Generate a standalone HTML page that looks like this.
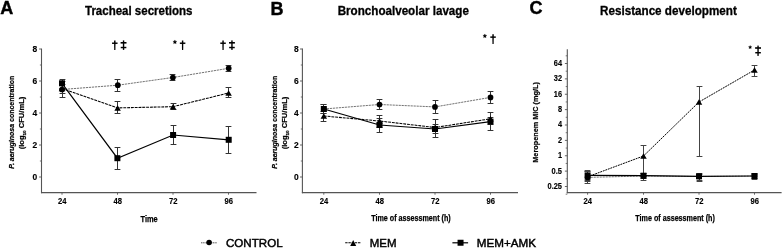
<!DOCTYPE html>
<html><head><meta charset="utf-8"><style>
html,body{margin:0;padding:0;background:#fff;width:783px;height:248px;overflow:hidden;font-family:"Liberation Sans", sans-serif;}
text{font-family:"Liberation Sans", sans-serif;}
svg{will-change:transform;}
</style></head><body>
<svg width="783" height="248" viewBox="0 0 783 248" style="display:block;font-family:'Liberation Sans', sans-serif">
<rect width="783" height="248" fill="#fff"/>
<text x="0.30" y="13.80" font-size="18" font-weight="bold" text-anchor="start" fill="#000" stroke="#000" stroke-width="0.4"  style="">A</text>
<text x="270.60" y="14.90" font-size="18" font-weight="bold" text-anchor="start" fill="#000" stroke="#000" stroke-width="0.4"  style="">B</text>
<text x="529.60" y="13.60" font-size="18" font-weight="bold" text-anchor="start" fill="#000" stroke="#000" stroke-width="0.4"  style="">C</text>
<text x="85.00" y="14.80" font-size="12" font-weight="bold" text-anchor="start" textLength="107.40" lengthAdjust="spacingAndGlyphs" fill="#000" stroke="#000" stroke-width="0.3"  style="">Tracheal secretions</text>
<text x="337.70" y="14.80" font-size="12" font-weight="bold" text-anchor="start" textLength="131.20" lengthAdjust="spacingAndGlyphs" fill="#000" stroke="#000" stroke-width="0.3"  style="">Bronchoalveolar lavage</text>
<text x="600.00" y="14.80" font-size="12" font-weight="bold" text-anchor="start" textLength="136.80" lengthAdjust="spacingAndGlyphs" fill="#000" stroke="#000" stroke-width="0.3"  style="">Resistance development</text>
<line x1="41.50" y1="48.60" x2="41.50" y2="193.20" stroke="#555" stroke-width="1.1" />
<line x1="41.00" y1="192.70" x2="256.50" y2="192.70" stroke="#555" stroke-width="1.2" />
<line x1="39.10" y1="49.00" x2="41.50" y2="49.00" stroke="#555" stroke-width="0.9" />
<line x1="39.10" y1="81.00" x2="41.50" y2="81.00" stroke="#555" stroke-width="0.9" />
<line x1="39.10" y1="113.00" x2="41.50" y2="113.00" stroke="#555" stroke-width="0.9" />
<line x1="39.10" y1="145.00" x2="41.50" y2="145.00" stroke="#555" stroke-width="0.9" />
<line x1="39.10" y1="177.00" x2="41.50" y2="177.00" stroke="#555" stroke-width="0.9" />
<line x1="39.90" y1="65.00" x2="41.50" y2="65.00" stroke="#555" stroke-width="0.8" />
<line x1="39.90" y1="97.00" x2="41.50" y2="97.00" stroke="#555" stroke-width="0.8" />
<line x1="39.90" y1="129.00" x2="41.50" y2="129.00" stroke="#555" stroke-width="0.8" />
<line x1="39.90" y1="161.00" x2="41.50" y2="161.00" stroke="#555" stroke-width="0.8" />
<line x1="62.00" y1="192.70" x2="62.00" y2="194.70" stroke="#555" stroke-width="0.9" />
<line x1="117.50" y1="192.70" x2="117.50" y2="194.70" stroke="#555" stroke-width="0.9" />
<line x1="173.00" y1="192.70" x2="173.00" y2="194.70" stroke="#555" stroke-width="0.9" />
<line x1="228.50" y1="192.70" x2="228.50" y2="194.70" stroke="#555" stroke-width="0.9" />
<text x="37.30" y="51.80" font-size="9" font-weight="bold" text-anchor="end" textLength="4.70" lengthAdjust="spacingAndGlyphs" fill="#000" stroke="#000" stroke-width="0.15"  style="">8</text>
<text x="37.30" y="83.80" font-size="9" font-weight="bold" text-anchor="end" textLength="4.70" lengthAdjust="spacingAndGlyphs" fill="#000" stroke="#000" stroke-width="0.15"  style="">6</text>
<text x="37.30" y="115.80" font-size="9" font-weight="bold" text-anchor="end" textLength="4.70" lengthAdjust="spacingAndGlyphs" fill="#000" stroke="#000" stroke-width="0.15"  style="">4</text>
<text x="37.30" y="147.80" font-size="9" font-weight="bold" text-anchor="end" textLength="4.70" lengthAdjust="spacingAndGlyphs" fill="#000" stroke="#000" stroke-width="0.15"  style="">2</text>
<text x="37.30" y="179.80" font-size="9" font-weight="bold" text-anchor="end" textLength="4.70" lengthAdjust="spacingAndGlyphs" fill="#000" stroke="#000" stroke-width="0.15"  style="">0</text>
<text x="62.20" y="203.80" font-size="8.8" font-weight="bold" text-anchor="middle" textLength="8.50" lengthAdjust="spacingAndGlyphs" fill="#000" stroke="#000" stroke-width="0.15"  style="">24</text>
<text x="117.70" y="203.80" font-size="8.8" font-weight="bold" text-anchor="middle" textLength="8.50" lengthAdjust="spacingAndGlyphs" fill="#000" stroke="#000" stroke-width="0.15"  style="">48</text>
<text x="173.20" y="203.80" font-size="8.8" font-weight="bold" text-anchor="middle" textLength="8.50" lengthAdjust="spacingAndGlyphs" fill="#000" stroke="#000" stroke-width="0.15"  style="">72</text>
<text x="228.70" y="203.80" font-size="8.8" font-weight="bold" text-anchor="middle" textLength="8.50" lengthAdjust="spacingAndGlyphs" fill="#000" stroke="#000" stroke-width="0.15"  style="">96</text>
<text x="149.10" y="221.90" font-size="9.6" font-weight="bold" text-anchor="middle" textLength="17.20" lengthAdjust="spacingAndGlyphs" fill="#000" stroke="#000" stroke-width="0.25"  style="">Time</text>
<line x1="302.40" y1="48.60" x2="302.40" y2="193.20" stroke="#555" stroke-width="1.1" />
<line x1="301.90" y1="192.70" x2="518.00" y2="192.70" stroke="#555" stroke-width="1.2" />
<line x1="300.00" y1="49.00" x2="302.40" y2="49.00" stroke="#555" stroke-width="0.9" />
<line x1="300.00" y1="81.00" x2="302.40" y2="81.00" stroke="#555" stroke-width="0.9" />
<line x1="300.00" y1="113.00" x2="302.40" y2="113.00" stroke="#555" stroke-width="0.9" />
<line x1="300.00" y1="145.00" x2="302.40" y2="145.00" stroke="#555" stroke-width="0.9" />
<line x1="300.00" y1="177.00" x2="302.40" y2="177.00" stroke="#555" stroke-width="0.9" />
<line x1="300.80" y1="65.00" x2="302.40" y2="65.00" stroke="#555" stroke-width="0.8" />
<line x1="300.80" y1="97.00" x2="302.40" y2="97.00" stroke="#555" stroke-width="0.8" />
<line x1="300.80" y1="129.00" x2="302.40" y2="129.00" stroke="#555" stroke-width="0.8" />
<line x1="300.80" y1="161.00" x2="302.40" y2="161.00" stroke="#555" stroke-width="0.8" />
<line x1="323.80" y1="192.70" x2="323.80" y2="194.70" stroke="#555" stroke-width="0.9" />
<line x1="379.50" y1="192.70" x2="379.50" y2="194.70" stroke="#555" stroke-width="0.9" />
<line x1="435.00" y1="192.70" x2="435.00" y2="194.70" stroke="#555" stroke-width="0.9" />
<line x1="490.50" y1="192.70" x2="490.50" y2="194.70" stroke="#555" stroke-width="0.9" />
<text x="298.80" y="51.80" font-size="9" font-weight="bold" text-anchor="end" textLength="4.70" lengthAdjust="spacingAndGlyphs" fill="#000" stroke="#000" stroke-width="0.15"  style="">8</text>
<text x="298.80" y="83.80" font-size="9" font-weight="bold" text-anchor="end" textLength="4.70" lengthAdjust="spacingAndGlyphs" fill="#000" stroke="#000" stroke-width="0.15"  style="">6</text>
<text x="298.80" y="115.80" font-size="9" font-weight="bold" text-anchor="end" textLength="4.70" lengthAdjust="spacingAndGlyphs" fill="#000" stroke="#000" stroke-width="0.15"  style="">4</text>
<text x="298.80" y="147.80" font-size="9" font-weight="bold" text-anchor="end" textLength="4.70" lengthAdjust="spacingAndGlyphs" fill="#000" stroke="#000" stroke-width="0.15"  style="">2</text>
<text x="298.80" y="179.80" font-size="9" font-weight="bold" text-anchor="end" textLength="4.70" lengthAdjust="spacingAndGlyphs" fill="#000" stroke="#000" stroke-width="0.15"  style="">0</text>
<text x="324.00" y="203.80" font-size="8.8" font-weight="bold" text-anchor="middle" textLength="8.50" lengthAdjust="spacingAndGlyphs" fill="#000" stroke="#000" stroke-width="0.15"  style="">24</text>
<text x="379.70" y="203.80" font-size="8.8" font-weight="bold" text-anchor="middle" textLength="8.50" lengthAdjust="spacingAndGlyphs" fill="#000" stroke="#000" stroke-width="0.15"  style="">48</text>
<text x="435.20" y="203.80" font-size="8.8" font-weight="bold" text-anchor="middle" textLength="8.50" lengthAdjust="spacingAndGlyphs" fill="#000" stroke="#000" stroke-width="0.15"  style="">72</text>
<text x="490.70" y="203.80" font-size="8.8" font-weight="bold" text-anchor="middle" textLength="8.50" lengthAdjust="spacingAndGlyphs" fill="#000" stroke="#000" stroke-width="0.15"  style="">96</text>
<text x="411.00" y="220.90" font-size="8.9" font-weight="bold" text-anchor="middle" textLength="79.50" lengthAdjust="spacingAndGlyphs" fill="#000" stroke="#000" stroke-width="0.25"  style="">Time of assessment (h)</text>
<line x1="567.30" y1="49.20" x2="567.30" y2="193.20" stroke="#555" stroke-width="1.1" />
<line x1="566.80" y1="192.70" x2="781.60" y2="192.70" stroke="#555" stroke-width="1.2" />
<line x1="564.90" y1="63.50" x2="567.30" y2="63.50" stroke="#555" stroke-width="0.9" />
<line x1="564.90" y1="78.88" x2="567.30" y2="78.88" stroke="#555" stroke-width="0.9" />
<line x1="564.90" y1="94.25" x2="567.30" y2="94.25" stroke="#555" stroke-width="0.9" />
<line x1="564.90" y1="109.62" x2="567.30" y2="109.62" stroke="#555" stroke-width="0.9" />
<line x1="564.90" y1="125.00" x2="567.30" y2="125.00" stroke="#555" stroke-width="0.9" />
<line x1="564.90" y1="140.38" x2="567.30" y2="140.38" stroke="#555" stroke-width="0.9" />
<line x1="564.90" y1="155.75" x2="567.30" y2="155.75" stroke="#555" stroke-width="0.9" />
<line x1="564.90" y1="171.12" x2="567.30" y2="171.12" stroke="#555" stroke-width="0.9" />
<line x1="564.90" y1="186.50" x2="567.30" y2="186.50" stroke="#555" stroke-width="0.9" />
<line x1="565.70" y1="55.81" x2="567.30" y2="55.81" stroke="#555" stroke-width="0.8" />
<line x1="565.70" y1="71.19" x2="567.30" y2="71.19" stroke="#555" stroke-width="0.8" />
<line x1="565.70" y1="86.56" x2="567.30" y2="86.56" stroke="#555" stroke-width="0.8" />
<line x1="565.70" y1="101.94" x2="567.30" y2="101.94" stroke="#555" stroke-width="0.8" />
<line x1="565.70" y1="117.31" x2="567.30" y2="117.31" stroke="#555" stroke-width="0.8" />
<line x1="565.70" y1="132.69" x2="567.30" y2="132.69" stroke="#555" stroke-width="0.8" />
<line x1="565.70" y1="148.06" x2="567.30" y2="148.06" stroke="#555" stroke-width="0.8" />
<line x1="565.70" y1="163.44" x2="567.30" y2="163.44" stroke="#555" stroke-width="0.8" />
<line x1="565.70" y1="178.81" x2="567.30" y2="178.81" stroke="#555" stroke-width="0.8" />
<line x1="565.70" y1="194.19" x2="567.30" y2="194.19" stroke="#555" stroke-width="0.8" />
<line x1="587.60" y1="192.70" x2="587.60" y2="194.70" stroke="#555" stroke-width="0.9" />
<line x1="643.50" y1="192.70" x2="643.50" y2="194.70" stroke="#555" stroke-width="0.9" />
<line x1="699.00" y1="192.70" x2="699.00" y2="194.70" stroke="#555" stroke-width="0.9" />
<line x1="754.50" y1="192.70" x2="754.50" y2="194.70" stroke="#555" stroke-width="0.9" />
<text x="562.00" y="65.90" font-size="8.3" font-weight="bold" text-anchor="end" textLength="8.20" lengthAdjust="spacingAndGlyphs" fill="#000" stroke="#000" stroke-width="0.15"  style="">64</text>
<text x="562.00" y="81.28" font-size="8.3" font-weight="bold" text-anchor="end" textLength="8.20" lengthAdjust="spacingAndGlyphs" fill="#000" stroke="#000" stroke-width="0.15"  style="">32</text>
<text x="562.00" y="96.65" font-size="8.3" font-weight="bold" text-anchor="end" textLength="8.20" lengthAdjust="spacingAndGlyphs" fill="#000" stroke="#000" stroke-width="0.15"  style="">16</text>
<text x="562.00" y="112.03" font-size="8.3" font-weight="bold" text-anchor="end" textLength="4.10" lengthAdjust="spacingAndGlyphs" fill="#000" stroke="#000" stroke-width="0.15"  style="">8</text>
<text x="562.00" y="127.40" font-size="8.3" font-weight="bold" text-anchor="end" textLength="4.10" lengthAdjust="spacingAndGlyphs" fill="#000" stroke="#000" stroke-width="0.15"  style="">4</text>
<text x="562.00" y="142.78" font-size="8.3" font-weight="bold" text-anchor="end" textLength="4.10" lengthAdjust="spacingAndGlyphs" fill="#000" stroke="#000" stroke-width="0.15"  style="">2</text>
<text x="562.00" y="158.15" font-size="8.3" font-weight="bold" text-anchor="end" textLength="4.10" lengthAdjust="spacingAndGlyphs" fill="#000" stroke="#000" stroke-width="0.15"  style="">1</text>
<text x="562.00" y="173.53" font-size="8.3" font-weight="bold" text-anchor="end" textLength="10.40" lengthAdjust="spacingAndGlyphs" fill="#000" stroke="#000" stroke-width="0.15"  style="">0.5</text>
<text x="562.00" y="188.90" font-size="8.3" font-weight="bold" text-anchor="end" textLength="14.50" lengthAdjust="spacingAndGlyphs" fill="#000" stroke="#000" stroke-width="0.15"  style="">0.25</text>
<text x="587.80" y="203.80" font-size="8.8" font-weight="bold" text-anchor="middle" textLength="8.50" lengthAdjust="spacingAndGlyphs" fill="#000" stroke="#000" stroke-width="0.15"  style="">24</text>
<text x="643.70" y="203.80" font-size="8.8" font-weight="bold" text-anchor="middle" textLength="8.50" lengthAdjust="spacingAndGlyphs" fill="#000" stroke="#000" stroke-width="0.15"  style="">48</text>
<text x="699.20" y="203.80" font-size="8.8" font-weight="bold" text-anchor="middle" textLength="8.50" lengthAdjust="spacingAndGlyphs" fill="#000" stroke="#000" stroke-width="0.15"  style="">72</text>
<text x="754.70" y="203.80" font-size="8.8" font-weight="bold" text-anchor="middle" textLength="8.50" lengthAdjust="spacingAndGlyphs" fill="#000" stroke="#000" stroke-width="0.15"  style="">96</text>
<text x="675.10" y="220.90" font-size="8.9" font-weight="bold" text-anchor="middle" textLength="79.50" lengthAdjust="spacingAndGlyphs" fill="#000" stroke="#000" stroke-width="0.25"  style="">Time of assessment (h)</text>
<text transform="translate(13.60,122.30) rotate(-90)" x="0" y="0" font-size="7.2" font-weight="bold" stroke="#000" stroke-width="0.22" text-anchor="middle" textLength="93" lengthAdjust="spacingAndGlyphs"><tspan font-style="italic">P. aeruginosa</tspan> concentration</text>
<text transform="translate(24.40,123.00) rotate(-90)" x="0" y="0" font-size="7.2" font-weight="bold" stroke="#000" stroke-width="0.22" text-anchor="middle" textLength="52.6" lengthAdjust="spacingAndGlyphs">(log<tspan font-size="4.3" dy="1.3">10</tspan><tspan dy="-1.3"> CFU/mL)</tspan></text>
<text transform="translate(276.80,122.30) rotate(-90)" x="0" y="0" font-size="7.2" font-weight="bold" stroke="#000" stroke-width="0.22" text-anchor="middle" textLength="93" lengthAdjust="spacingAndGlyphs"><tspan font-style="italic">P. aeruginosa</tspan> concentration</text>
<text transform="translate(287.20,123.00) rotate(-90)" x="0" y="0" font-size="7.2" font-weight="bold" stroke="#000" stroke-width="0.22" text-anchor="middle" textLength="52.6" lengthAdjust="spacingAndGlyphs">(log<tspan font-size="4.3" dy="1.3">10</tspan><tspan dy="-1.3"> CFU/mL)</tspan></text>
<text transform="translate(538.2,122.4) rotate(-90)" x="0" y="0" font-size="7.6" font-weight="bold" stroke="#000" stroke-width="0.22" text-anchor="middle" textLength="80.6" lengthAdjust="spacingAndGlyphs">Meropenem MIC (mg/L)</text>
<polyline points="62.00,89.50 117.80,85.20 172.90,77.50 228.70,68.30" fill="none" stroke="#444" stroke-width="0.75" stroke-dasharray="2.2,0.8"/>
<polyline points="62.00,88.50 117.60,107.90 173.00,106.70 228.60,93.00" fill="none" stroke="#000" stroke-width="1.05" stroke-dasharray="2.9,0.9"/>
<polyline points="62.00,83.30 117.40,158.20 173.10,135.00 228.70,139.80" fill="none" stroke="#000" stroke-width="1.2"/>
<line x1="62.50" y1="81.50" x2="62.50" y2="97.50" stroke="#333" stroke-width="1" />
<line x1="59.60" y1="81.50" x2="65.40" y2="81.50" stroke="#333" stroke-width="1" />
<line x1="59.60" y1="97.50" x2="65.40" y2="97.50" stroke="#333" stroke-width="1" />
<line x1="117.50" y1="79.50" x2="117.50" y2="91.50" stroke="#333" stroke-width="1" />
<line x1="114.60" y1="79.50" x2="120.40" y2="79.50" stroke="#333" stroke-width="1" />
<line x1="114.60" y1="91.50" x2="120.40" y2="91.50" stroke="#333" stroke-width="1" />
<line x1="172.50" y1="74.50" x2="172.50" y2="80.50" stroke="#333" stroke-width="1" />
<line x1="169.60" y1="74.50" x2="175.40" y2="74.50" stroke="#333" stroke-width="1" />
<line x1="169.60" y1="80.50" x2="175.40" y2="80.50" stroke="#333" stroke-width="1" />
<line x1="228.50" y1="65.50" x2="228.50" y2="71.50" stroke="#333" stroke-width="1" />
<line x1="225.60" y1="65.50" x2="231.40" y2="65.50" stroke="#333" stroke-width="1" />
<line x1="225.60" y1="71.50" x2="231.40" y2="71.50" stroke="#333" stroke-width="1" />
<line x1="62.50" y1="84.50" x2="62.50" y2="93.50" stroke="#333" stroke-width="1" />
<line x1="59.60" y1="84.50" x2="65.40" y2="84.50" stroke="#333" stroke-width="1" />
<line x1="59.60" y1="93.50" x2="65.40" y2="93.50" stroke="#333" stroke-width="1" />
<line x1="117.50" y1="101.50" x2="117.50" y2="113.50" stroke="#333" stroke-width="1" />
<line x1="114.60" y1="101.50" x2="120.40" y2="101.50" stroke="#333" stroke-width="1" />
<line x1="114.60" y1="113.50" x2="120.40" y2="113.50" stroke="#333" stroke-width="1" />
<line x1="173.50" y1="103.50" x2="173.50" y2="109.50" stroke="#333" stroke-width="1" />
<line x1="170.60" y1="103.50" x2="176.40" y2="103.50" stroke="#333" stroke-width="1" />
<line x1="170.60" y1="109.50" x2="176.40" y2="109.50" stroke="#333" stroke-width="1" />
<line x1="228.50" y1="87.50" x2="228.50" y2="97.50" stroke="#333" stroke-width="1" />
<line x1="225.60" y1="87.50" x2="231.40" y2="87.50" stroke="#333" stroke-width="1" />
<line x1="225.60" y1="97.50" x2="231.40" y2="97.50" stroke="#333" stroke-width="1" />
<line x1="62.50" y1="79.50" x2="62.50" y2="88.50" stroke="#333" stroke-width="1" />
<line x1="59.60" y1="79.50" x2="65.40" y2="79.50" stroke="#333" stroke-width="1" />
<line x1="59.60" y1="88.50" x2="65.40" y2="88.50" stroke="#333" stroke-width="1" />
<line x1="117.50" y1="147.50" x2="117.50" y2="169.50" stroke="#333" stroke-width="1" />
<line x1="114.60" y1="147.50" x2="120.40" y2="147.50" stroke="#333" stroke-width="1" />
<line x1="114.60" y1="169.50" x2="120.40" y2="169.50" stroke="#333" stroke-width="1" />
<line x1="173.50" y1="125.50" x2="173.50" y2="144.50" stroke="#333" stroke-width="1" />
<line x1="170.60" y1="125.50" x2="176.40" y2="125.50" stroke="#333" stroke-width="1" />
<line x1="170.60" y1="144.50" x2="176.40" y2="144.50" stroke="#333" stroke-width="1" />
<line x1="228.50" y1="126.50" x2="228.50" y2="153.50" stroke="#333" stroke-width="1" />
<line x1="225.60" y1="126.50" x2="231.40" y2="126.50" stroke="#333" stroke-width="1" />
<line x1="225.60" y1="153.50" x2="231.40" y2="153.50" stroke="#333" stroke-width="1" />
<circle cx="62.00" cy="89.50" r="2.85" fill="#000"/>
<circle cx="117.80" cy="85.20" r="2.85" fill="#000"/>
<circle cx="172.90" cy="77.50" r="2.85" fill="#000"/>
<circle cx="228.70" cy="68.30" r="2.85" fill="#000"/>
<polygon points="62.00,85.74 65.25,91.26 58.75,91.26" fill="#000"/>
<polygon points="117.60,105.14 120.85,110.66 114.35,110.66" fill="#000"/>
<polygon points="173.00,103.94 176.25,109.46 169.75,109.46" fill="#000"/>
<polygon points="228.60,90.24 231.85,95.76 225.35,95.76" fill="#000"/>
<rect x="59.00" y="80.30" width="6" height="6" fill="#000"/>
<rect x="114.40" y="155.20" width="6" height="6" fill="#000"/>
<rect x="170.10" y="132.00" width="6" height="6" fill="#000"/>
<rect x="225.70" y="136.80" width="6" height="6" fill="#000"/>
<polyline points="323.80,109.00 379.50,104.50 435.00,106.90 490.50,97.40" fill="none" stroke="#444" stroke-width="0.75" stroke-dasharray="2.2,0.8"/>
<polyline points="323.80,116.00 379.50,121.00 435.00,127.50 490.50,118.80" fill="none" stroke="#000" stroke-width="1.05" stroke-dasharray="2.9,0.9"/>
<polyline points="323.80,109.00 379.50,125.00 435.00,129.00 490.50,121.60" fill="none" stroke="#000" stroke-width="1.2"/>
<line x1="323.50" y1="104.50" x2="323.50" y2="113.50" stroke="#333" stroke-width="1" />
<line x1="320.60" y1="104.50" x2="326.40" y2="104.50" stroke="#333" stroke-width="1" />
<line x1="320.60" y1="113.50" x2="326.40" y2="113.50" stroke="#333" stroke-width="1" />
<line x1="379.50" y1="99.50" x2="379.50" y2="109.50" stroke="#333" stroke-width="1" />
<line x1="376.60" y1="99.50" x2="382.40" y2="99.50" stroke="#333" stroke-width="1" />
<line x1="376.60" y1="109.50" x2="382.40" y2="109.50" stroke="#333" stroke-width="1" />
<line x1="435.50" y1="100.50" x2="435.50" y2="113.50" stroke="#333" stroke-width="1" />
<line x1="432.60" y1="100.50" x2="438.40" y2="100.50" stroke="#333" stroke-width="1" />
<line x1="432.60" y1="113.50" x2="438.40" y2="113.50" stroke="#333" stroke-width="1" />
<line x1="490.50" y1="91.50" x2="490.50" y2="103.50" stroke="#333" stroke-width="1" />
<line x1="487.60" y1="91.50" x2="493.40" y2="91.50" stroke="#333" stroke-width="1" />
<line x1="487.60" y1="103.50" x2="493.40" y2="103.50" stroke="#333" stroke-width="1" />
<line x1="323.50" y1="111.50" x2="323.50" y2="121.50" stroke="#333" stroke-width="1" />
<line x1="320.60" y1="111.50" x2="326.40" y2="111.50" stroke="#333" stroke-width="1" />
<line x1="320.60" y1="121.50" x2="326.40" y2="121.50" stroke="#333" stroke-width="1" />
<line x1="379.50" y1="115.50" x2="379.50" y2="127.50" stroke="#333" stroke-width="1" />
<line x1="376.60" y1="115.50" x2="382.40" y2="115.50" stroke="#333" stroke-width="1" />
<line x1="376.60" y1="127.50" x2="382.40" y2="127.50" stroke="#333" stroke-width="1" />
<line x1="435.50" y1="119.50" x2="435.50" y2="137.50" stroke="#333" stroke-width="1" />
<line x1="432.60" y1="119.50" x2="438.40" y2="119.50" stroke="#333" stroke-width="1" />
<line x1="432.60" y1="137.50" x2="438.40" y2="137.50" stroke="#333" stroke-width="1" />
<line x1="490.50" y1="112.50" x2="490.50" y2="124.50" stroke="#333" stroke-width="1" />
<line x1="487.60" y1="112.50" x2="493.40" y2="112.50" stroke="#333" stroke-width="1" />
<line x1="487.60" y1="124.50" x2="493.40" y2="124.50" stroke="#333" stroke-width="1" />
<line x1="323.50" y1="104.50" x2="323.50" y2="113.50" stroke="#333" stroke-width="1" />
<line x1="320.60" y1="104.50" x2="326.40" y2="104.50" stroke="#333" stroke-width="1" />
<line x1="320.60" y1="113.50" x2="326.40" y2="113.50" stroke="#333" stroke-width="1" />
<line x1="379.50" y1="118.50" x2="379.50" y2="132.50" stroke="#333" stroke-width="1" />
<line x1="376.60" y1="118.50" x2="382.40" y2="118.50" stroke="#333" stroke-width="1" />
<line x1="376.60" y1="132.50" x2="382.40" y2="132.50" stroke="#333" stroke-width="1" />
<line x1="435.50" y1="124.50" x2="435.50" y2="133.50" stroke="#333" stroke-width="1" />
<line x1="432.60" y1="124.50" x2="438.40" y2="124.50" stroke="#333" stroke-width="1" />
<line x1="432.60" y1="133.50" x2="438.40" y2="133.50" stroke="#333" stroke-width="1" />
<line x1="490.50" y1="117.50" x2="490.50" y2="130.50" stroke="#333" stroke-width="1" />
<line x1="487.60" y1="117.50" x2="493.40" y2="117.50" stroke="#333" stroke-width="1" />
<line x1="487.60" y1="130.50" x2="493.40" y2="130.50" stroke="#333" stroke-width="1" />
<circle cx="323.80" cy="109.00" r="2.85" fill="#000"/>
<circle cx="379.50" cy="104.50" r="2.85" fill="#000"/>
<circle cx="435.00" cy="106.90" r="2.85" fill="#000"/>
<circle cx="490.50" cy="97.40" r="2.85" fill="#000"/>
<polygon points="323.80,113.24 327.05,118.76 320.55,118.76" fill="#000"/>
<polygon points="379.50,118.24 382.75,123.76 376.25,123.76" fill="#000"/>
<polygon points="435.00,124.74 438.25,130.26 431.75,130.26" fill="#000"/>
<polygon points="490.50,116.04 493.75,121.56 487.25,121.56" fill="#000"/>
<rect x="320.80" y="106.00" width="6" height="6" fill="#000"/>
<rect x="376.50" y="122.00" width="6" height="6" fill="#000"/>
<rect x="432.00" y="126.00" width="6" height="6" fill="#000"/>
<rect x="487.50" y="118.60" width="6" height="6" fill="#000"/>
<polyline points="587.60,177.40 643.50,176.00 699.00,176.50 754.50,176.00" fill="none" stroke="#444" stroke-width="0.75" stroke-dasharray="2.2,0.8"/>
<polyline points="587.60,176.80 643.50,156.00 699.00,102.00 754.50,70.00" fill="none" stroke="#000" stroke-width="1.0" stroke-dasharray="1.9,0.8"/>
<polyline points="587.60,175.40 643.50,175.70 699.00,176.30 754.50,176.00" fill="none" stroke="#000" stroke-width="1.2"/>
<line x1="587.50" y1="171.50" x2="587.50" y2="183.50" stroke="#444" stroke-width="1" />
<line x1="584.60" y1="171.50" x2="590.40" y2="171.50" stroke="#444" stroke-width="1" />
<line x1="584.60" y1="183.50" x2="590.40" y2="183.50" stroke="#444" stroke-width="1" />
<line x1="643.50" y1="173.50" x2="643.50" y2="180.50" stroke="#444" stroke-width="1" />
<line x1="640.60" y1="173.50" x2="646.40" y2="173.50" stroke="#444" stroke-width="1" />
<line x1="640.60" y1="180.50" x2="646.40" y2="180.50" stroke="#444" stroke-width="1" />
<line x1="699.50" y1="174.50" x2="699.50" y2="180.50" stroke="#444" stroke-width="1" />
<line x1="696.60" y1="174.50" x2="702.40" y2="174.50" stroke="#444" stroke-width="1" />
<line x1="696.60" y1="180.50" x2="702.40" y2="180.50" stroke="#444" stroke-width="1" />
<line x1="754.50" y1="174.50" x2="754.50" y2="179.50" stroke="#444" stroke-width="1" />
<line x1="751.60" y1="174.50" x2="757.40" y2="174.50" stroke="#444" stroke-width="1" />
<line x1="751.60" y1="179.50" x2="757.40" y2="179.50" stroke="#444" stroke-width="1" />
<line x1="587.50" y1="170.50" x2="587.50" y2="181.50" stroke="#444" stroke-width="1" />
<line x1="584.60" y1="170.50" x2="590.40" y2="170.50" stroke="#444" stroke-width="1" />
<line x1="584.60" y1="181.50" x2="590.40" y2="181.50" stroke="#444" stroke-width="1" />
<line x1="643.50" y1="145.50" x2="643.50" y2="176.50" stroke="#444" stroke-width="1" />
<line x1="640.60" y1="145.50" x2="646.40" y2="145.50" stroke="#444" stroke-width="1" />
<line x1="640.60" y1="176.50" x2="646.40" y2="176.50" stroke="#444" stroke-width="1" />
<line x1="699.50" y1="86.50" x2="699.50" y2="156.50" stroke="#444" stroke-width="1" />
<line x1="696.60" y1="86.50" x2="702.40" y2="86.50" stroke="#444" stroke-width="1" />
<line x1="696.60" y1="156.50" x2="702.40" y2="156.50" stroke="#444" stroke-width="1" />
<line x1="754.50" y1="65.50" x2="754.50" y2="76.50" stroke="#444" stroke-width="1" />
<line x1="751.60" y1="65.50" x2="757.40" y2="65.50" stroke="#444" stroke-width="1" />
<line x1="751.60" y1="76.50" x2="757.40" y2="76.50" stroke="#444" stroke-width="1" />
<line x1="587.50" y1="171.50" x2="587.50" y2="180.50" stroke="#444" stroke-width="1" />
<line x1="584.60" y1="171.50" x2="590.40" y2="171.50" stroke="#444" stroke-width="1" />
<line x1="584.60" y1="180.50" x2="590.40" y2="180.50" stroke="#444" stroke-width="1" />
<line x1="643.50" y1="173.50" x2="643.50" y2="178.50" stroke="#444" stroke-width="1" />
<line x1="640.60" y1="173.50" x2="646.40" y2="173.50" stroke="#444" stroke-width="1" />
<line x1="640.60" y1="178.50" x2="646.40" y2="178.50" stroke="#444" stroke-width="1" />
<line x1="699.50" y1="173.50" x2="699.50" y2="181.50" stroke="#444" stroke-width="1" />
<line x1="696.60" y1="173.50" x2="702.40" y2="173.50" stroke="#444" stroke-width="1" />
<line x1="696.60" y1="181.50" x2="702.40" y2="181.50" stroke="#444" stroke-width="1" />
<line x1="754.50" y1="173.50" x2="754.50" y2="178.50" stroke="#444" stroke-width="1" />
<line x1="751.60" y1="173.50" x2="757.40" y2="173.50" stroke="#444" stroke-width="1" />
<line x1="751.60" y1="178.50" x2="757.40" y2="178.50" stroke="#444" stroke-width="1" />
<circle cx="587.60" cy="177.40" r="2.85" fill="#000"/>
<circle cx="643.50" cy="176.00" r="2.85" fill="#000"/>
<circle cx="699.00" cy="176.50" r="2.85" fill="#000"/>
<circle cx="754.50" cy="176.00" r="2.85" fill="#000"/>
<polygon points="587.60,174.04 590.85,179.56 584.35,179.56" fill="#000"/>
<polygon points="643.50,153.24 646.75,158.76 640.25,158.76" fill="#000"/>
<polygon points="699.00,99.24 702.25,104.76 695.75,104.76" fill="#000"/>
<polygon points="754.50,67.24 757.75,72.76 751.25,72.76" fill="#000"/>
<rect x="584.60" y="172.40" width="6" height="6" fill="#000"/>
<rect x="640.50" y="172.70" width="6" height="6" fill="#000"/>
<rect x="696.00" y="173.30" width="6" height="6" fill="#000"/>
<rect x="751.50" y="173.00" width="6" height="6" fill="#000"/>
<polygon points="114.05,40.40 115.55,40.40 115.40,49.90 114.20,49.90" fill="#000"/>
<rect x="112.05" y="42.50" width="5.5" height="1.45" fill="#000"/>
<rect x="122.85" y="40.40" width="1.4" height="9.50" fill="#000"/>
<rect x="120.60" y="42.00" width="5.9" height="1.6" fill="#000"/>
<rect x="120.75" y="46.80" width="5.6" height="1.45" fill="#000"/>
<polygon points="174.90,39.95 175.52,41.20 176.90,41.40 175.90,42.37 176.13,43.75 174.90,43.10 173.67,43.75 173.90,42.37 172.90,41.40 174.28,41.20" fill="#000" stroke="#000" stroke-width="0.3" stroke-linejoin="round"/>
<polygon points="181.85,40.40 183.35,40.40 183.20,49.90 182.00,49.90" fill="#000"/>
<rect x="179.85" y="42.50" width="5.5" height="1.45" fill="#000"/>
<polygon points="222.30,40.40 223.80,40.40 223.65,49.90 222.45,49.90" fill="#000"/>
<rect x="220.30" y="42.50" width="5.5" height="1.45" fill="#000"/>
<rect x="231.25" y="40.40" width="1.4" height="9.50" fill="#000"/>
<rect x="229.00" y="42.00" width="5.9" height="1.6" fill="#000"/>
<rect x="229.15" y="46.80" width="5.6" height="1.45" fill="#000"/>
<polygon points="484.85,33.95 485.45,35.17 486.80,35.37 485.82,36.32 486.05,37.66 484.85,37.02 483.65,37.66 483.88,36.32 482.90,35.37 484.25,35.17" fill="#000" stroke="#000" stroke-width="0.3" stroke-linejoin="round"/>
<polygon points="492.30,34.30 493.80,34.30 493.65,44.00 492.45,44.00" fill="#000"/>
<rect x="490.30" y="36.40" width="5.5" height="1.45" fill="#000"/>
<polygon points="750.15,45.52 750.66,46.55 751.80,46.71 750.97,47.52 751.17,48.65 750.15,48.12 749.13,48.65 749.33,47.52 748.50,46.71 749.64,46.55" fill="#000" stroke="#000" stroke-width="0.3" stroke-linejoin="round"/>
<rect x="757.35" y="45.60" width="1.4" height="10.30" fill="#000"/>
<rect x="755.10" y="47.20" width="5.9" height="1.6" fill="#000"/>
<rect x="755.25" y="52.00" width="5.6" height="1.45" fill="#000"/>
<line x1="201.00" y1="242.80" x2="217.00" y2="242.80" stroke="#444" stroke-width="0.9" stroke-dasharray="1.2,0.5" />
<circle cx="209.10" cy="242.50" r="2.8" fill="#000"/>
<text x="226.00" y="246.60" font-size="11.5" font-weight="normal" text-anchor="start" textLength="56.60" lengthAdjust="spacingAndGlyphs" fill="#000" stroke="#000" stroke-width="0.45"  style="">CONTROL</text>
<line x1="345.20" y1="242.80" x2="361.20" y2="242.80" stroke="#000" stroke-width="1.1" stroke-dasharray="2.4,0.8" />
<polygon points="353.20,239.90 356.20,245.90 350.20,245.90" fill="#000"/>
<text x="369.80" y="246.60" font-size="11.5" font-weight="normal" text-anchor="start" textLength="26.80" lengthAdjust="spacingAndGlyphs" fill="#000" stroke="#000" stroke-width="0.45"  style="">MEM</text>
<line x1="452.40" y1="242.80" x2="468.10" y2="242.80" stroke="#000" stroke-width="1.2" />
<rect x="457.55" y="239.75" width="6" height="6" fill="#000"/>
<text x="476.80" y="246.60" font-size="11.5" font-weight="normal" text-anchor="start" textLength="59.20" lengthAdjust="spacingAndGlyphs" fill="#000" stroke="#000" stroke-width="0.45"  style="">MEM+AMK</text>
</svg>
</body></html>
